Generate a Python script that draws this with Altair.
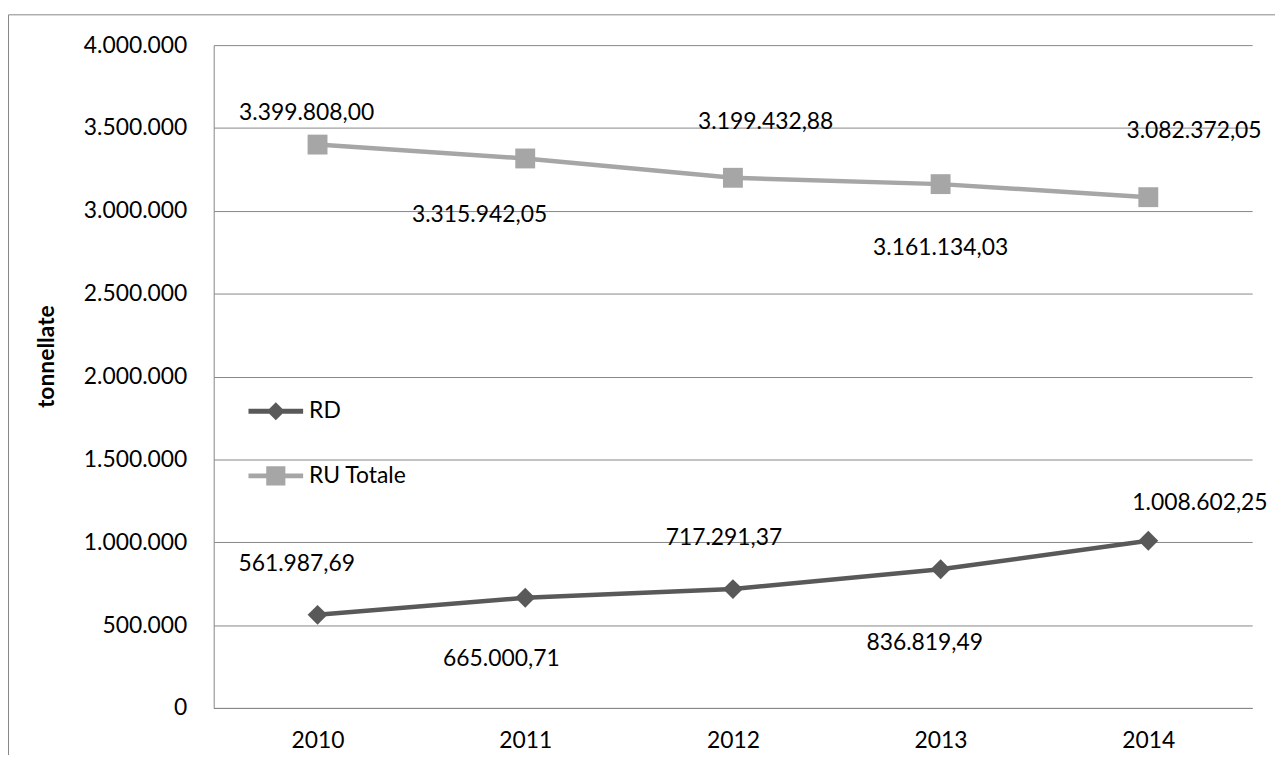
import altair as alt
import pandas as pd

# ---- data ----
years = ["2010", "2011", "2012", "2013", "2014"]
rd_values = [561987.69, 665000.71, 717291.37, 836819.49, 1008602.25]
ru_values = [3399808.00, 3315942.05, 3199432.88, 3161134.03, 3082372.05]
series_names = ["RD", "RU Totale"]
y_ticks = [0, 500000, 1000000, 1500000, 2000000, 2500000, 3000000, 3500000, 4000000]

# label placement (pixel offsets from each point), as in the original sheet
rd_label_offsets = [(-21, -51), (-24, 62), (-9, -51), (-16, 74), (52, -38)]
ru_label_offsets = [(-11, -32), (-46, 57), (33, -56), (0, 64), (46, -67)]

FONT = "Lato"
FS = 23
DARK = "#595959"
LIGHT = "#a6a6a6"
GRID = "#868686"


def it_fmt(v):
    s = f"{v:,.2f}"
    return s.replace(",", "X").replace(".", ",").replace("X", ".")


rows = []
for yr, v in zip(years, rd_values):
    rows.append({"year": yr, "serie": "RD", "value": v, "label": it_fmt(v)})
for yr, v in zip(years, ru_values):
    rows.append({"year": yr, "serie": "RU Totale", "value": v, "label": it_fmt(v)})
df = pd.DataFrame(rows)

base = alt.Chart(df)

x_enc = alt.X(
    "year:O",
    scale=alt.Scale(type="point", padding=0.5),
    axis=alt.Axis(
        labelAngle=0, ticks=False, grid=False, domainColor=GRID, domainWidth=1,
        labelFont=FONT, labelFontSize=FS, labelColor="black", labelPadding=22,
    ),
    title=None,
)
y_enc = alt.Y(
    "value:Q",
    scale=alt.Scale(domain=[0, 4000000], nice=False, zero=True),
    axis=alt.Axis(
        values=y_ticks,
        labelExpr="replace(format(datum.value, ','), regexp(',', 'g'), '.')",
        ticks=False, grid=True, gridColor=GRID, gridWidth=1,
        domainColor=GRID, domainWidth=1,
        labelFont=FONT, labelFontSize=FS, labelColor="black", labelPadding=27,
        titleFont=FONT, titleFontSize=FS, titleFontWeight="bold", titleColor="black",
        titleAngle=-90, titleX=-168, titleY=313, titleAlign="center", titleBaseline="middle",
    ),
    title="tonnellate",
)

frame_df = pd.DataFrame({"k": [0]})
frame_top = alt.Chart(frame_df).mark_rule(color=GRID, strokeWidth=1).encode(
    x=alt.value(-206.5), x2=alt.value(1070), y=alt.value(-30.5)
)
frame_left = alt.Chart(frame_df).mark_rule(color=GRID, strokeWidth=1).encode(
    x=alt.value(-206.5), y=alt.value(-30.5), y2=alt.value(720)
)

layers = [frame_top, frame_left]

for name, col, shape in [("RU Totale", LIGHT, "square"), ("RD", DARK, "diamond")]:
    sub = base.transform_filter(alt.datum.serie == name)
    layers.append(sub.mark_line(color=col, strokeWidth=4.5).encode(x=x_enc, y=y_enc))
    layers.append(
        sub.mark_point(shape=shape, filled=True, size=400, color=col, opacity=1).encode(x=x_enc, y=y_enc)
    )

for name, offs in [("RD", rd_label_offsets), ("RU Totale", ru_label_offsets)]:
    for yr, (dx, dy) in zip(years, offs):
        layers.append(
            base.transform_filter((alt.datum.serie == name) & (alt.datum.year == yr))
            .mark_text(font=FONT, fontSize=FS, color="black", dx=dx, dy=dy,
                       align="center", baseline="middle")
            .encode(x=x_enc, y=y_enc, text="label:N")
        )

rd_path = "M-5,-0.45H5V0.45H-5Z M0,-1.65L1.65,0L0,1.65L-1.65,0Z"
ru_path = "M-5,-0.45H5V0.45H-5Z M-1.75,-1.75H1.75V1.75H-1.75Z"
leg = alt.Legend(
    orient="none", legendX=51, legendY=357, title=None, padding=0,
    symbolSize=121, symbolStrokeWidth=0, symbolOpacity=1, labelOffset=22,
    labelFont=FONT, labelFontSize=FS, labelColor="black", rowPadding=41,
)
legend_layer = base.transform_filter("false").mark_point(filled=True, opacity=1).encode(
    x=x_enc, y=y_enc,
    color=alt.Color("serie:N", scale=alt.Scale(domain=series_names, range=[DARK, LIGHT]), legend=leg),
    shape=alt.Shape("serie:N", scale=alt.Scale(domain=series_names, range=[rd_path, ru_path]), legend=leg),
)
layers.append(legend_layer)

chart = alt.layer(*layers).properties(
    width=1045, height=667,
    autosize=alt.AutoSizeParams(type="none"),
    padding={"left": 207, "top": 35, "right": 23, "bottom": 45},
    background="white",
).configure_view(stroke=None)

chart.save("out.html", embed_options={"renderer": "svg", "actions": False})
